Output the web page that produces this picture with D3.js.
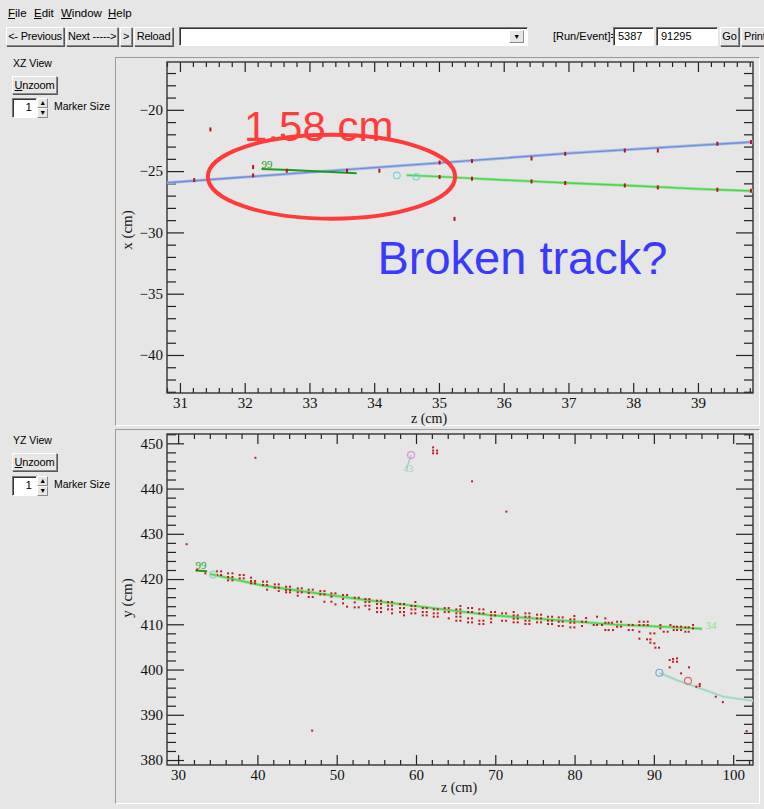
<!DOCTYPE html>
<html>
<head>
<meta charset="utf-8">
<script src="https://cdn.jsdelivr.net/npm/d3@7"></script>
<style>
  body { margin:0; width:764px; height:809px; background:#e6e6e6; overflow:hidden; position:relative;
         font-family:"Liberation Sans", Arial, sans-serif; font-size:11.5px; color:#000; }
  .abs { position:absolute; white-space:nowrap; }
  .small { font-size:10.5px; }
  .btn { position:absolute; box-sizing:border-box; height:19px; line-height:17px; text-align:center; white-space:nowrap;
         overflow:hidden; font-size:11px; letter-spacing:-0.2px;
         border:1px solid; border-color:#fff #8a8a8a #8a8a8a #fff; box-shadow:1px 1px 0 #555; background:#e6e6e6; }
  .field { position:absolute; box-sizing:border-box; height:19px; line-height:17px; background:#fff; white-space:nowrap;
           border:1px solid; border-color:#7a7a7a #fff #fff #7a7a7a; box-shadow:inset 1px 1px 0 #333; padding-left:4px; }
  .canvasbox { position:absolute; box-sizing:border-box; border:1px solid; border-color:#9a9a9a #fff #fff #9a9a9a; }
  svg { position:absolute; left:0; top:0; }
</style>
</head>
<body>
<!-- menu bar -->
<div class="abs" style="left:8px;top:7px"><u>F</u>ile</div>
<div class="abs" style="left:34px;top:7px"><u>E</u>dit</div>
<div class="abs" style="left:61px;top:7px"><u>W</u>indow</div>
<div class="abs" style="left:108px;top:7px"><u>H</u>elp</div>
<!-- tool bar -->
<div class="btn" style="left:6px;top:27px;width:58px">&lt;- Previous</div>
<div class="btn" style="left:66px;top:27px;width:52px">Next -----&gt;</div>
<div class="btn" style="left:120px;top:27px;width:12px">&gt;</div>
<div class="btn" style="left:134px;top:27px;width:39px">Reload</div>
<div class="field" style="left:179px;top:27px;width:349px"></div>
<div class="btn" style="left:509px;top:30px;width:15px;height:13px;line-height:11px;font-size:7px;box-shadow:none">&#9660;</div>
<div class="abs" style="left:553px;top:30px;font-size:11px">[Run/Event]=</div>
<div class="field" style="left:613px;top:27px;width:41px;font-size:11px">5387</div>
<div class="field" style="left:656px;top:27px;width:62px;font-size:11px">91295</div>
<div class="btn" style="left:720px;top:27px;width:19px">Go</div>
<div class="btn" style="left:741px;top:27px;width:30px;text-align:left;padding-left:2px">Print</div>
<!-- side panels -->
<div class="abs small" style="left:13px;top:57px">XZ View</div>
<div class="btn" style="left:12px;top:76px;width:45px;height:18px;line-height:16px"><u>U</u>nzoom</div>
<div class="field" style="left:12px;top:98px;width:25px;height:20px;text-align:right;padding-right:4px">1</div>
<div class="btn" style="left:37px;top:98px;width:11px;height:10px;line-height:8px;font-size:7px;box-shadow:none">&#9650;</div>
<div class="btn" style="left:37px;top:108px;width:11px;height:10px;line-height:8px;font-size:7px;box-shadow:none">&#9660;</div>
<div class="abs small" style="left:54px;top:100px">Marker Size</div>

<div class="abs small" style="left:13px;top:434px">YZ View</div>
<div class="btn" style="left:12px;top:453px;width:45px;height:18px;line-height:16px"><u>U</u>nzoom</div>
<div class="field" style="left:12px;top:476px;width:25px;height:20px;text-align:right;padding-right:4px">1</div>
<div class="btn" style="left:37px;top:476px;width:11px;height:10px;line-height:8px;font-size:7px;box-shadow:none">&#9650;</div>
<div class="btn" style="left:37px;top:486px;width:11px;height:10px;line-height:8px;font-size:7px;box-shadow:none">&#9660;</div>
<div class="abs small" style="left:54px;top:478px">Marker Size</div>

<div class="canvasbox" style="left:115px;top:57px;width:645px;height:369px"></div>
<div class="canvasbox" style="left:115px;top:429px;width:645px;height:375px"></div>

<script>
// ---------- XZ view data ----------
const xzZTicks = [31, 32, 33, 34, 35, 36, 37, 38, 39];
const xzXTicks = [-40, -35, -30, -25, -20];
// reconstructed hits (z, x) in cm
const xzHits = [
  [31.47,-21.6],[31.22,-25.73],[32.13,-24.67],[32.13,-25.35],[32.65,-24.97],[33.58,-24.97],[34.08,-24.97],
  [35.01,-24.30],[35.51,-24.18],[36.43,-23.97],[36.95,-23.59],[37.87,-23.32],[38.38,-23.32],[39.30,-22.77],[39.82,-22.63],
  [35.01,-25.48],[35.51,-25.62],[36.43,-25.84],[36.95,-25.97],[37.87,-26.17],[38.38,-26.33],[39.30,-26.52],[39.82,-26.60],
  [35.24,-28.9]
];
const xzBlueTrack = [[30.8,-25.95],[33.0,-25.1],[35.0,-24.33],[37.0,-23.55],[39.0,-22.9],[39.85,-22.62]];
const xzGreenTrack = [[34.5,-25.33],[35.0,-25.45],[36.0,-25.72],[37.0,-25.97],[38.0,-26.2],[39.0,-26.45],[39.85,-26.62]];
const xzTrack99 = [[32.26,-24.83],[32.7,-24.9],[33.1,-25.02],[33.73,-25.18]];
const xzVertices = [[34.35,-25.35],[34.65,-25.46]];

// ---------- YZ view data ----------
const yzZTicks = [30, 40, 50, 60, 70, 80, 90, 100];
const yzYTicks = [380, 390, 400, 410, 420, 430, 440, 450];
const yzHits = [
  [31.08,427.7],[39.75,446.8],[46.9,386.5],[62.16,449.1],[62.16,448.4],[62.66,448.4],[62.16,447.8],[62.66,447.8],
  [67.07,441.6],[71.4,434.9],[98.7,392.8],[101.7,386.4],[32.39,422.0],[33.44,421.26],
  [34.91,421.70],[35.42,421.70],[34.91,420.89],[35.42,420.89],
  [36.30,421.26],[36.85,421.26],[36.30,420.45],[36.85,420.45],[36.30,419.71],[36.85,419.71],
  [37.77,420.89],[38.28,420.89],[37.77,420.15],[38.28,420.15],
  [39.20,420.30],[39.20,419.56],[39.71,419.56],[39.20,419.05],[39.71,419.05],
  [40.71,419.42],[41.22,419.42],[40.71,418.68],[41.22,418.68],[41.22,417.65],
  [42.19,418.83],[42.69,418.83],[42.19,418.09],[42.69,418.09],[42.69,417.35],
  [43.62,418.31],[44.12,418.31],[43.62,417.57],[44.12,417.57],[43.62,417.06],[44.12,417.06],
  [45.09,417.94],[45.59,417.94],[45.09,417.06],[45.59,417.06],[45.09,416.32],
  [46.47,417.65],[46.98,417.65],[46.47,416.91],[46.47,416.03],[46.98,416.03],
  [47.94,417.35],[48.45,417.35],[47.94,416.62],[48.45,416.62],[48.45,414.99],
  [49.33,416.84],[49.84,416.84],[49.33,416.10],[49.33,414.99],[49.84,414.40],
  [50.80,416.47],[51.31,416.47],[50.80,415.58],[50.80,414.63],[51.31,413.89],
  [52.27,415.88],[52.78,415.88],[52.27,414.85],[52.27,413.74],[52.78,413.74],
  [53.62,415.58],[54.12,415.58],[53.62,414.92],[54.12,414.92],[53.62,414.11],[54.12,414.11],[54.12,413.30],
  [55.09,415.22],[55.59,415.22],[55.09,414.48],[55.59,414.48],[55.09,413.59],[55.59,413.59],[55.09,412.71],[55.59,412.71],
  [56.48,414.92],[56.98,414.92],[56.48,414.11],[56.98,414.11],[56.48,413.30],[56.98,413.30],[56.98,412.42],
  [57.99,414.48],[58.49,414.48],[57.99,413.59],[58.49,413.59],[57.99,412.71],[58.49,412.71],[58.49,411.97],
  [59.92,414.92],[59.42,414.04],[59.92,414.04],[59.42,413.30],[59.92,413.30],[59.42,412.42],[59.92,412.42],
  [60.85,413.59],[61.35,413.59],[60.85,412.71],[61.35,412.71],[60.85,411.97],[61.35,411.97],
  [62.24,413.30],[62.74,413.30],[62.24,412.42],[62.74,412.42],[62.24,411.68],[62.74,411.68],
  [63.62,413.59],[64.13,413.59],[63.62,412.71],[64.13,412.71],[64.13,411.31],
  [65.60,414.04],[65.09,413.30],[65.60,413.30],[65.09,412.42],[65.60,412.42],[65.09,411.68],[65.60,411.68],[65.09,410.79],[65.60,410.79],
  [66.57,413.59],[67.07,413.59],[66.57,412.71],[67.07,412.71],[66.57,411.31],[67.07,411.31],[66.57,410.43],[67.07,410.43],
  [67.99,413.30],[68.50,413.30],[67.99,412.42],[68.50,412.42],[67.99,410.79],[68.50,410.79],[67.99,410.06],[68.50,410.06],
  [69.47,412.71],[69.97,412.71],[69.47,411.97],[69.97,411.97],[69.47,411.24],[69.47,410.43],
  [70.85,412.42],[71.36,412.42],[70.85,410.79],[71.36,410.79],
  [72.32,412.71],[72.32,411.97],[72.83,411.97],[72.32,411.24],[72.83,411.24],[72.32,410.43],[72.83,410.43],
  [73.80,412.42],[74.30,412.42],[73.80,411.68],[74.30,411.68],[73.80,410.79],[74.30,410.79],[73.80,410.06],[74.30,410.06],
  [75.27,412.12],[75.77,412.12],[75.27,411.31],[75.77,411.31],[75.27,410.43],[75.77,410.43],
  [76.65,411.68],[77.16,411.68],[76.65,410.79],[77.16,410.79],[76.65,410.06],[77.16,410.06],
  [78.00,411.53],[78.50,411.53],[78.00,410.57],[78.50,410.57],[78.00,409.62],[78.50,409.62],
  [79.97,411.83],[79.47,411.09],[79.97,411.09],[79.47,410.35],[79.97,410.35],[79.47,409.32],[79.97,409.32],
  [81.45,411.38],[80.94,410.57],[81.45,410.57],[80.94,409.62],
  [82.83,411.68],[82.41,409.84],[82.83,409.84],[83.46,409.84],[83.88,411.31],[83.88,410.35],[84.30,410.35],[84.73,410.35],
  [83.88,408.73],[84.30,408.73],[84.85,408.73],
  [85.36,410.57],[85.86,410.57],[85.36,409.47],[85.86,409.47],
  [86.83,409.84],[87.33,409.84],[86.83,408.73],[87.33,408.73],
  [88.17,410.57],[88.72,410.57],[89.22,410.57],[88.17,409.84],[88.72,409.84],[89.22,409.84],[88.17,408.36],[88.17,406.82],
  [89.56,407.99],[90.06,407.99],[89.14,406.67],[89.56,406.67],[89.56,405.93],[90.06,405.78],[90.19,404.83],[90.65,404.83],
  [90.82,409.84],[90.82,409.10],[91.24,408.36],[91.74,408.36],[92.08,409.84],[92.50,409.47],[92.92,409.47],[93.43,409.47],
  [92.50,408.73],[92.92,408.73],[93.43,408.73],[93.97,409.32],[94.39,409.32],[93.97,408.36],[94.39,408.36],[94.94,409.84],[94.94,409.10],
  [91.99,402.10],[92.42,402.32],[92.92,402.47],[92.42,401.73],[92.92,401.73],[91.99,400.48],[94.43,400.48],[93.43,399.15],
  [95.36,396.21],[95.78,396.35],[95.78,396.80],[97.80,394.00]
];
const yzGreenTrack = [[34.07,421.1],[40.38,418.66],[46.68,417.06],[52.99,415.52],[60.77,413.88],[69.17,412.05],[77.58,410.94],[84.89,409.95],[91.2,409.46],[96.08,409.02]];
const yzTrack99 = [[32.2,421.9],[33.66,421.7]];
const yzTrack43 = [[59.38,447.4],[58.8,444.3]];
const yzTealTrack = [[90.69,399.3],[93.0,397.6],[95.45,396.07],[98.8,394.0],[102.5,393.1]];

const svg = d3.select("body").append("svg").attr("width", 764).attr("height", 809);
const serif = "'Liberation Serif', 'Times New Roman', serif";

function panel(cfg) {
  const g = svg.append("g");
  const x = d3.scaleLinear().domain(cfg.xDomain).range([167, 753]);
  const y = d3.scaleLinear().domain(cfg.yDomain).range([cfg.bottom, cfg.top]);
  const minorX = d3.range(Math.ceil(cfg.xDomain[0] / cfg.xMinor) * cfg.xMinor, cfg.xDomain[1], cfg.xMinor)
    .filter(v => Math.abs(v / cfg.xMajor - Math.round(v / cfg.xMajor)) > 1e-6);
  const minorY = d3.range(Math.ceil(cfg.yDomain[0] / cfg.yMinor) * cfg.yMinor, cfg.yDomain[1], cfg.yMinor)
    .filter(v => Math.abs(v / cfg.yMajor - Math.round(v / cfg.yMajor)) > 1e-6);
  const fmt = d => d < 0 ? "\u2212" + Math.abs(d) : String(d);

  const axes = [
    [d3.axisBottom(x).tickValues(cfg.xTicks).tickSize(-10).tickPadding(4).tickFormat(fmt), `translate(0,${cfg.bottom})`],
    [d3.axisBottom(x).tickValues(minorX).tickSize(-5).tickFormat(""), `translate(0,${cfg.bottom})`],
    [d3.axisTop(x).tickValues(cfg.xTicks).tickSize(-10).tickFormat(""), `translate(0,${cfg.top})`],
    [d3.axisTop(x).tickValues(minorX).tickSize(-5).tickFormat(""), `translate(0,${cfg.top})`],
    [d3.axisLeft(y).tickValues(cfg.yTicks).tickSize(-17).tickPadding(4).tickFormat(fmt), `translate(167,0)`],
    [d3.axisLeft(y).tickValues(minorY).tickSize(-9).tickFormat(""), `translate(167,0)`],
    [d3.axisRight(y).tickValues(cfg.yTicks).tickSize(-17).tickFormat(""), `translate(753,0)`],
    [d3.axisRight(y).tickValues(minorY).tickSize(-9).tickFormat(""), `translate(753,0)`]
  ];
  axes.forEach(([ax, tr]) => {
    const a = g.append("g").attr("transform", tr).call(ax.tickSizeOuter(0));
    a.select(".domain").remove();
    a.selectAll("line").attr("stroke", "#222").attr("stroke-width", 1.2);
    a.selectAll("text").attr("font-family", serif).attr("font-size", 15).attr("fill", "#111");
  });
  g.append("rect").attr("x", 167).attr("y", cfg.top).attr("width", 586).attr("height", cfg.bottom - cfg.top)
    .attr("fill", "none").attr("stroke", "#333").attr("stroke-width", 1.4);

  g.append("text").attr("x", cfg.xTitle[0]).attr("y", cfg.xTitle[1]).attr("text-anchor", "middle")
    .attr("font-family", serif).attr("font-size", 14).attr("fill", "#111").text("z (cm)");
  g.append("text").attr("transform", `translate(${cfg.yTitle[0]},${cfg.yTitle[1]}) rotate(-90)`)
    .attr("text-anchor", "middle").attr("font-family", serif).attr("font-size", 15).attr("fill", "#111").text(cfg.yLabel);

  const clip = "clip" + cfg.yLabel[0];
  svg.append("clipPath").attr("id", clip).append("rect")
    .attr("x", 167).attr("y", cfg.top).attr("width", 586).attr("height", cfg.bottom - cfg.top);
  const plot = g.append("g").attr("clip-path", `url(#${clip})`);
  const line = d3.line().x(d => x(d[0])).y(d => y(d[1]));
  return { x, y, plot, line, g };
}

function track(p, pts, halo, core, w) {
  if (halo) p.plot.append("path").attr("d", p.line(pts)).attr("fill", "none").attr("stroke", halo).attr("stroke-width", w + 1.6);
  p.plot.append("path").attr("d", p.line(pts)).attr("fill", "none").attr("stroke", core).attr("stroke-width", w);
}

// ---------- XZ view ----------
const pXZ = panel({
  xDomain: [30.8, 39.85], yDomain: [-43.1, -16.1], top: 62, bottom: 393,
  xTicks: xzZTicks, yTicks: xzXTicks, xMajor: 1, xMinor: 0.2, yMajor: 5, yMinor: 1,
  xTitle: [429, 423], yTitle: [132, 230], yLabel: "x (cm)"
});
track(pXZ, xzBlueTrack, "#a9bce6", "#6f8fdc", 1.4);
track(pXZ, xzGreenTrack, "#9ee39e", "#4fd24f", 1.4);
track(pXZ, xzTrack99, null, "#1f9a1f", 2);
pXZ.plot.selectAll("circle.v").data(xzVertices).join("circle")
  .attr("cx", d => pXZ.x(d[0])).attr("cy", d => pXZ.y(d[1])).attr("r", 3.3)
  .attr("fill", "none").attr("stroke", "#6fd6d6").attr("stroke-width", 1.1);
pXZ.plot.selectAll("rect.h").data(xzHits).join("rect")
  .attr("x", d => pXZ.x(d[0]) - 1).attr("y", d => pXZ.y(d[1]) - 2).attr("width", 2).attr("height", 4).attr("fill", "#b51515");
pXZ.plot.append("text").attr("x", pXZ.x(32.26)).attr("y", pXZ.y(-24.72)).attr("font-family", serif)
  .attr("font-size", 11).attr("fill", "#2aa02a").text("99");

// annotations on the XZ view
pXZ.g.append("ellipse").attr("cx", pXZ.x(33.34)).attr("cy", pXZ.y(-25.46))
  .attr("rx", pXZ.x(33.34 + 1.91) - pXZ.x(33.34)).attr("ry", pXZ.y(-25.46 - 3.42) - pXZ.y(-25.46))
  .attr("fill", "none").attr("stroke", "#ff3a3a").attr("stroke-width", 4);
pXZ.g.append("text").attr("x", pXZ.x(31.99)).attr("y", pXZ.y(-22.53))
  .attr("font-family", "'Liberation Sans', Arial, sans-serif").attr("font-size", 42).attr("fill", "#ff3c3c").text("1.58 cm");
pXZ.g.append("text").attr("x", pXZ.x(34.05)).attr("y", pXZ.y(-33.37))
  .attr("font-family", "'Liberation Sans', Arial, sans-serif").attr("font-size", 47).attr("fill", "#3a3aff").text("Broken track?");

// ---------- YZ view ----------
const pYZ = panel({
  xDomain: [28.6, 102.5], yDomain: [378.9, 452.06], top: 434, bottom: 765,
  xTicks: yzZTicks, yTicks: yzYTicks, xMajor: 10, xMinor: 2, yMajor: 10, yMinor: 2,
  xTitle: [459, 792], yTitle: [132, 598], yLabel: "y (cm)"
});
track(pYZ, yzTealTrack, "#cfe6de", "#a3d3c3", 1.6);
track(pYZ, yzGreenTrack, "#9ee39e", "#55d455", 1.6);
track(pYZ, yzTrack99, null, "#1f9a1f", 2);
track(pYZ, yzTrack43, null, "#9fd0c0", 1.5);
pYZ.plot.selectAll("rect.h").data(yzHits).join("rect")
  .attr("x", d => pYZ.x(d[0]) - 1).attr("y", d => pYZ.y(d[1]) - 1).attr("width", 2).attr("height", 2).attr("fill", "#c01c1c");
const yzVertices = [[34.41, 421.0, "#8cd0d0"], [59.38, 447.4, "#e08be0"], [90.69, 399.3, "#7d9de0"], [94.3, 397.5, "#e06464"]];
pYZ.plot.selectAll("circle.v").data(yzVertices).join("circle")
  .attr("cx", d => pYZ.x(d[0])).attr("cy", d => pYZ.y(d[1])).attr("r", 3.5)
  .attr("fill", "none").attr("stroke", d => d[2]).attr("stroke-width", 1.1);
pYZ.plot.append("text").attr("x", pYZ.x(32.2)).attr("y", pYZ.y(422.2)).attr("font-family", serif)
  .attr("font-size", 11).attr("fill", "#2aa02a").text("99");
pYZ.plot.append("text").attr("x", pYZ.x(96.5)).attr("y", pYZ.y(408.9)).attr("font-family", serif)
  .attr("font-size", 11).attr("fill", "#86e086").text("34");
pYZ.plot.append("text").attr("x", pYZ.x(58.4)).attr("y", pYZ.y(443.6)).attr("font-family", serif)
  .attr("font-size", 10).attr("fill", "#9fd0c0").text("43");
</script>
</body>
</html>
